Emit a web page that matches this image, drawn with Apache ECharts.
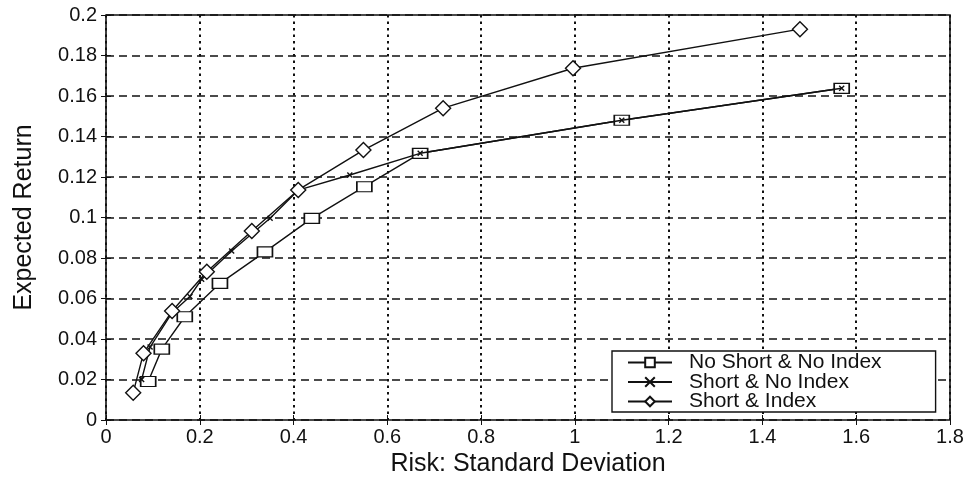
<!DOCTYPE html>
<html>
<head>
<meta charset="UTF-8">
<title>Efficient frontiers</title>
<script src="https://cdn.jsdelivr.net/npm/echarts@6/dist/echarts.min.js"></script>
<style>
  html, body { margin: 0; padding: 0; background: #fff; }
  #chart { width: 963px; height: 479px; }
</style>
</head>
<body>
<div id="chart"></div>
<script>
// risk (std dev) and expected return
const noShortRisk   = [0.090, 0.119, 0.168, 0.243, 0.339, 0.439, 0.551, 0.670, 1.100, 1.569];
const noShortReturn = [0.019, 0.035, 0.051, 0.0675, 0.083, 0.0996, 0.1152, 0.1317, 0.148, 0.1638];

const shortRisk   = [0.076, 0.094, 0.141, 0.179, 0.204, 0.268, 0.350, 0.410, 0.520, 0.670, 1.100, 1.569];
const shortReturn = [0.020, 0.036, 0.053, 0.061, 0.0695, 0.0835, 0.0996, 0.1135, 0.121, 0.1317, 0.148, 0.1638];

const indexRisk   = [0.058, 0.080, 0.141, 0.215, 0.311, 0.410, 0.549, 0.719, 0.996, 1.480];
const indexReturn = [0.0135, 0.033, 0.0538, 0.0732, 0.0933, 0.1136, 0.1333, 0.154, 0.1737, 0.193];

const seriesNames = ['No Short & No Index', 'Short & No Index', 'Short & Index'];

function pairs(xs, ys) {
    return xs.map((x, i) => [x, ys[i]]);
}

const font = 'Liberation Sans';
const black = '#111';

const hollow = {color: '#fff', borderColor: black, borderWidth: 1.4};
const lineStyle = {color: black, width: 1.4};

const xSplit = {show: true, lineStyle: {color: black, type: [2.5, 4], width: 2}};
const ySplit = {show: true, lineStyle: {color: black, type: [8, 5], width: 1.6}};

const option = {
    animation: false,
    backgroundColor: '#fff',
    grid: {
        left: 106, right: 13, top: 15, bottom: 59,
        outerBoundsMode: 'none',
        show: true, borderColor: black, borderWidth: 1.6
    },
    legend: {
        data: seriesNames,
        orient: 'vertical',
        left: 612,
        top: 351,
        padding: [1, 54, 0, 15],
        itemGap: -1.5,
        itemWidth: 44,
        itemHeight: 12,
        backgroundColor: '#fff',
        borderColor: black,
        borderWidth: 1.4,
        borderRadius: 0,
        textStyle: {fontFamily: font, fontSize: 21, color: black, padding: [0, 0, 0, 12]}
    },
    xAxis: [{
        type: 'value', min: 0, max: 1.8, interval: 0.2,
        name: 'Risk: Standard Deviation', nameLocation: 'middle', nameGap: 30,
        nameTextStyle: {fontFamily: font, fontSize: 25, color: black},
        axisLine: {show: false},
        axisTick: {show: true, inside: true, length: 5, lineStyle: {color: black}},
        axisLabel: {fontFamily: font, fontSize: 20, color: black, margin: 7},
        splitLine: xSplit
    }, {
        type: 'value', min: 0, max: 1.8, interval: 0.2, position: 'top',
        axisLine: {show: false},
        axisTick: {show: true, inside: true, length: 5, lineStyle: {color: black}},
        axisLabel: {show: false},
        splitLine: {show: false}
    }],
    yAxis: [{
        type: 'value', min: 0, max: 0.2, interval: 0.02,
        name: 'Expected Return', nameLocation: 'middle', nameGap: 69,
        nameTextStyle: {fontFamily: font, fontSize: 25, color: black},
        axisLine: {show: false},
        axisTick: {show: true, inside: true, length: 5, lineStyle: {color: black}},
        axisLabel: {fontFamily: font, fontSize: 20, color: black, margin: 9},
        splitLine: ySplit
    }, {
        type: 'value', min: 0, max: 0.2, interval: 0.02, position: 'right',
        axisLine: {show: false},
        axisTick: {show: true, inside: true, length: 5, lineStyle: {color: black}},
        axisLabel: {show: false},
        splitLine: {show: false}
    }],
    series: [{
        name: seriesNames[0],
        type: 'line',
        data: pairs(noShortRisk, noShortReturn),
        symbol: 'rect',
        symbolSize: [15, 10],
        showAllSymbol: true,
        lineStyle: lineStyle,
        itemStyle: hollow,
        z: 3
    }, {
        name: seriesNames[1],
        type: 'line',
        data: pairs(shortRisk, shortReturn),
        symbol: 'path://M0,0L10,10M0,10L10,0',
        symbolSize: 5,
        showAllSymbol: true,
        lineStyle: lineStyle,
        itemStyle: {color: 'none', borderColor: black, borderWidth: 1.4},
        z: 4
    }, {
        name: seriesNames[2],
        type: 'line',
        data: pairs(indexRisk, indexReturn),
        symbol: 'diamond',
        symbolSize: [15, 15],
        showAllSymbol: true,
        lineStyle: lineStyle,
        itemStyle: hollow,
        z: 5
    }]
};

const chart = echarts.init(document.getElementById('chart'));
chart.setOption(option);
</script>
</body>
</html>
